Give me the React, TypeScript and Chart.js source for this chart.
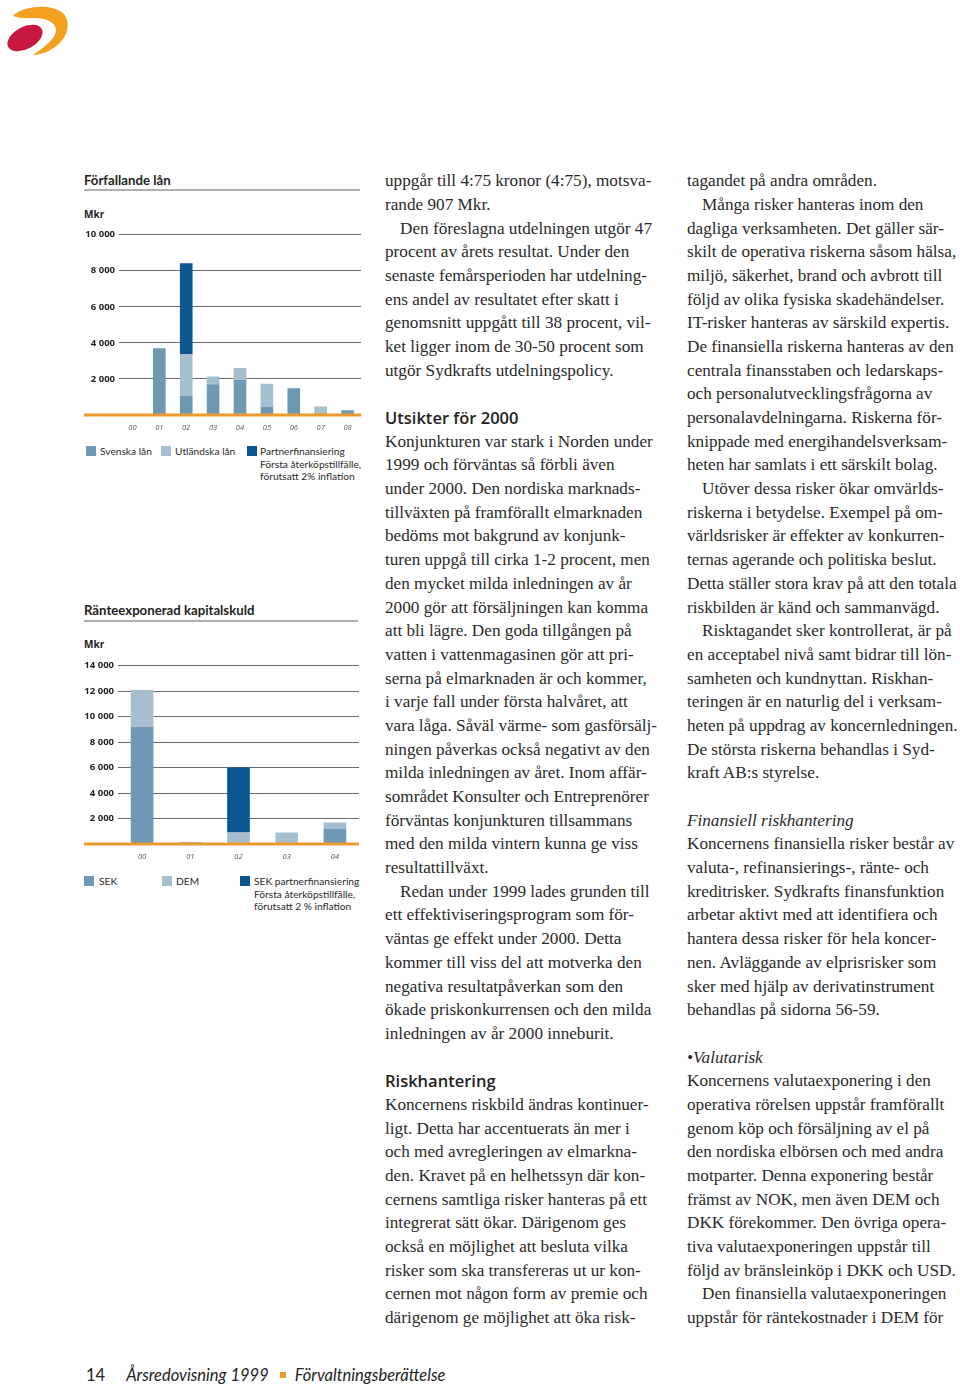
import React, { useEffect, useRef } from "react";
import { Chart, registerables } from "chart.js";

Chart.register(...registerables);

// ---------- Chart 1: Förfallande lån ----------
const loanYears = ["00", "01", "02", "03", "04", "05", "06", "07", "08"];
const svenskaLan = [0, 3700, 1050, 1700, 1950, 450, 1480, 0, 270];
const utlandskaLan = [0, 0, 2330, 440, 650, 1280, 0, 470, 0];
const partnerLan = [0, 0, 5030, 0, 0, 0, 0, 0, 0];

// ---------- Chart 2: Ränteexponerad kapitalskuld ----------
const debtYears = ["00", "01", "02", "03", "04"];
const sekDebt = [9200, 0, 0, 0, 1210];
const demDebt = [2900, 150, 900, 900, 470];
const sekPartnerDebt = [0, 0, 5100, 0, 0];

const C_MID = "#6e98b3";
const C_LIGHT = "#a6bfcf";
const C_DARK = "#0b5590";
const C_ORANGE = "#eb9a2c";

const TEXT_COLOR = "#2a2a2a";
const SERIF = "'Liberation Serif', serif";
const SANS = "Lato, 'Open Sans', sans-serif";
const SANS2 = "'Open Sans', sans-serif";

const col2Lines: [string, string?][] = [
  ["uppgår till 4:75 kronor (4:75), motsva-"],
  ["rande 907 Mkr."],
  ["Den föreslagna utdelningen utgör 47", "i"],
  ["procent av årets resultat. Under den"],
  ["senaste femårsperioden har utdelning-"],
  ["ens andel av resultatet efter skatt i"],
  ["genomsnitt uppgått till 38 procent, vil-"],
  ["ket ligger inom de 30-50 procent som"],
  ["utgör Sydkrafts utdelningspolicy."],
  [""],
  ["Utsikter för 2000", "h"],
  ["Konjunkturen var stark i Norden under"],
  ["1999 och förväntas så förbli även"],
  ["under 2000. Den nordiska marknads-"],
  ["tillväxten på framförallt elmarknaden"],
  ["bedöms mot bakgrund av konjunk-"],
  ["turen uppgå till cirka 1-2 procent, men"],
  ["den mycket milda inledningen av år"],
  ["2000 gör att försäljningen kan komma"],
  ["att bli lägre. Den goda tillgången på"],
  ["vatten i vattenmagasinen gör att pri-"],
  ["serna på elmarknaden är och kommer,"],
  ["i varje fall under första halvåret, att"],
  ["vara låga. Såväl värme- som gasförsälj-"],
  ["ningen påverkas också negativt av den"],
  ["milda inledningen av året. Inom affär-"],
  ["sområdet Konsulter och Entreprenörer"],
  ["förväntas konjunkturen tillsammans"],
  ["med den milda vintern kunna ge viss"],
  ["resultattillväxt."],
  ["Redan under 1999 lades grunden till", "i"],
  ["ett effektiviseringsprogram som för-"],
  ["väntas ge effekt under 2000. Detta"],
  ["kommer till viss del att motverka den"],
  ["negativa resultatpåverkan som den"],
  ["ökade priskonkurrensen och den milda"],
  ["inledningen av år 2000 inneburit."],
  [""],
  ["Riskhantering", "h"],
  ["Koncernens riskbild ändras kontinuer-"],
  ["ligt. Detta har accentuerats än mer i"],
  ["och med avregleringen av elmarkna-"],
  ["den. Kravet på en helhetssyn där kon-"],
  ["cernens samtliga risker hanteras på ett"],
  ["integrerat sätt ökar. Därigenom ges"],
  ["också en möjlighet att besluta vilka"],
  ["risker som ska transfereras ut ur kon-"],
  ["cernen mot någon form av premie och"],
  ["därigenom ge möjlighet att öka risk-"],
];

const col3Lines: [string, string?][] = [
  ["tagandet på andra områden."],
  ["Många risker hanteras inom den", "i"],
  ["dagliga verksamheten. Det gäller sär-"],
  ["skilt de operativa riskerna såsom hälsa,"],
  ["miljö, säkerhet, brand och avbrott till"],
  ["följd av olika fysiska skadehändelser."],
  ["IT-risker hanteras av särskild expertis."],
  ["De finansiella riskerna hanteras av den"],
  ["centrala finansstaben och ledarskaps-"],
  ["och personalutvecklingsfrågorna av"],
  ["personalavdelningarna. Riskerna för-"],
  ["knippade med energihandelsverksam-"],
  ["heten har samlats i ett särskilt bolag."],
  ["Utöver dessa risker ökar omvärlds-", "i"],
  ["riskerna i betydelse. Exempel på om-"],
  ["världsrisker är effekter av konkurren-"],
  ["ternas agerande och politiska beslut."],
  ["Detta ställer stora krav på att den totala"],
  ["riskbilden är känd och sammanvägd."],
  ["Risktagandet sker kontrollerat, är på", "i"],
  ["en acceptabel nivå samt bidrar till lön-"],
  ["samheten och kundnyttan. Riskhan-"],
  ["teringen är en naturlig del i verksam-"],
  ["heten på uppdrag av koncernledningen."],
  ["De största riskerna behandlas i Syd-"],
  ["kraft AB:s styrelse."],
  [""],
  ["Finansiell riskhantering", "it"],
  ["Koncernens finansiella risker består av"],
  ["valuta-, refinansierings-, ränte- och"],
  ["kreditrisker. Sydkrafts finansfunktion"],
  ["arbetar aktivt med att identifiera och"],
  ["hantera dessa risker för hela koncer-"],
  ["nen. Avläggande av elprisrisker som"],
  ["sker med hjälp av derivatinstrument"],
  ["behandlas på sidorna 56-59."],
  [""],
  ["•Valutarisk", "it"],
  ["Koncernens valutaexponering i den"],
  ["operativa rörelsen uppstår framförallt"],
  ["genom köp och försäljning av el på"],
  ["den nordiska elbörsen och med andra"],
  ["motparter. Denna exponering består"],
  ["främst av NOK, men även DEM och"],
  ["DKK förekommer. Den övriga opera-"],
  ["tiva valutaexponeringen uppstår till"],
  ["följd av bränsleinköp i DKK och USD."],
  ["Den finansiella valutaexponeringen", "i"],
  ["uppstår för räntekostnader i DEM för"],
];

const LINE_H = 23.7;

const baselinePlugin = {
  id: "orangeBaseline",
  afterDatasetsDraw(chart: any) {
    const y = chart.scales.y.getPixelForValue(0);
    const ctx = chart.ctx;
    ctx.save();
    ctx.strokeStyle = C_ORANGE;
    ctx.lineWidth = 3;
    ctx.beginPath();
    ctx.moveTo(0, y);
    ctx.lineTo(chart.chartArea.right, y);
    ctx.stroke();
    ctx.restore();
  },
};

function fmt(v: number) {
  if (v === 0) return "";
  return String(v).replace(/\B(?=(\d{3})+(?!\d))/g, " ");
}

function StackedBars(props: {
  labels: string[];
  series: { data: number[]; color: string }[];
  max: number;
  yWidth: number;
  width: number;
  height: number;
  left: number;
  top: number;
}) {
  const ref = useRef<HTMLCanvasElement>(null);
  useEffect(() => {
    if (!ref.current) return;
    const chart = new Chart(ref.current, {
      type: "bar",
      data: {
        labels: props.labels,
        datasets: props.series.map((s) => ({
          data: s.data,
          backgroundColor: s.color,
          borderWidth: 0,
          barPercentage: 0.47,
          categoryPercentage: 1,
        })),
      },
      options: {
        animation: false,
        responsive: false,
        devicePixelRatio: 1,
        layout: { padding: { top: 8, left: 0, right: 0, bottom: 0 } },
        plugins: { legend: { display: false }, tooltip: { enabled: false } },
        scales: {
          x: {
            stacked: true,
            grid: { display: false, drawTicks: false },
            border: { display: false },
            ticks: {
              padding: 8,
              color: "#555",
              font: { family: SANS2, size: 7.5, style: "italic" },
            },
            afterFit: (s: any) => {
              s.height = 20;
            },
          },
          y: {
            stacked: true,
            min: 0,
            max: props.max,
            border: { display: false },
            grid: {
              drawTicks: false,
              lineWidth: 1,
              color: (c: any) => (c.tick && c.tick.value === 0 ? "rgba(0,0,0,0)" : "#6a6a6a"),
            },
            ticks: {
              stepSize: 2000,
              padding: 4,
              color: "#1e1e1e",
              font: { family: SANS2, size: 9.5, weight: "bold" },
              callback: (v: any) => fmt(Number(v)),
            },
            afterFit: (s: any) => {
              s.width = props.yWidth;
            },
          },
        },
      },
      plugins: [baselinePlugin],
    } as any);
    return () => chart.destroy();
  }, []);
  return (
    <canvas
      ref={ref}
      width={props.width}
      height={props.height}
      style={{ position: "absolute", left: props.left, top: props.top, width: props.width, height: props.height }}
    />
  );
}

function Sq({ x, y, c }: { x: number; y: number; c: string }) {
  return <div style={{ position: "absolute", left: x, top: y, width: 10, height: 10, background: c }} />;
}

function Txt(p: { x: number; y: number; children: any; size?: number; bold?: boolean; color?: string; family?: string }) {
  return (
    <div
      style={{
        position: "absolute",
        left: p.x,
        top: p.y,
        fontFamily: p.family || SANS,
        fontSize: p.size || 10.2,
        fontWeight: p.bold ? 700 : 400,
        color: p.color || "#2a2a2a",
        whiteSpace: "nowrap",
        lineHeight: "12px",
      }}
    >
      {p.children}
    </div>
  );
}

function Column({ x, lines }: { x: number; lines: [string, string?][] }) {
  return (
    <div style={{ position: "absolute", left: x, top: 181 - LINE_H / 2, width: 290 }}>
      {lines.map(([t, k], i) => {
        const base: any = {
          height: LINE_H,
          lineHeight: LINE_H + "px",
          whiteSpace: "nowrap",
          fontFamily: SERIF,
          fontSize: 17.2,
          color: TEXT_COLOR,
        };
        if (k === "i") base.paddingLeft = 15;
        if (k === "h") {
          base.fontFamily = SANS2;
          base.fontWeight = 600;
          base.fontSize = 16.5;
          base.color = "#1e1e1e";
        }
        if (k === "it") base.fontStyle = "italic";
        return (
          <div key={i} style={base}>
            {t || "\u00a0"}
          </div>
        );
      })}
    </div>
  );
}

export default function App() {
  return (
    <div style={{ position: "absolute", left: 0, top: 0, width: 960, height: 1387, background: "#fff", overflow: "hidden" }}>
      {/* logo */}
      <svg width={80} height={64} style={{ position: "absolute", left: 0, top: 0 }}>
        <path
          d="M13,16 C22,6 50,3 63,13 C72,22 68,40 52,49 C46,53 38,55 33,55 C45,47 56,38 56,30 C56,22 45,18 36,18 C28,18 20,19 13,16 Z"
          fill="#f4a11f"
        />
        <ellipse cx={25} cy={38} rx={19} ry={11} transform="rotate(-28 25 38)" fill="#c8173f" />
      </svg>

      {/* Chart 1 */}
      <Txt x={84} y={174} size={13.2} bold color="#1e1e1e">Förfallande lån</Txt>
      <div style={{ position: "absolute", left: 84, top: 189, width: 276, height: 2, background: "#b0b0b0" }} />
      <Txt x={84} y={208} size={10} bold color="#1e1e1e" family={SANS2}>Mkr</Txt>
      <StackedBars
        labels={loanYears}
        series={[
          { data: svenskaLan, color: C_MID },
          { data: utlandskaLan, color: C_LIGHT },
          { data: partnerLan, color: C_DARK },
        ]}
        max={10000}
        yWidth={35}
        width={277}
        height={210}
        left={84}
        top={225}
      />
      <Sq x={86} y={446} c={C_MID} />
      <Txt x={100} y={445}>Svenska lån</Txt>
      <Sq x={161} y={446} c={C_LIGHT} />
      <Txt x={175} y={445}>Utländska lån</Txt>
      <Sq x={247} y={446} c={C_DARK} />
      <Txt x={260} y={445}>Partnerfinansiering</Txt>
      <Txt x={260} y={458}>Första återköpstillfälle,</Txt>
      <Txt x={260} y={470}>förutsatt 2% inflation</Txt>

      {/* Chart 2 */}
      <Txt x={84} y={604} size={13.2} bold color="#1e1e1e">Ränteexponerad kapitalskuld</Txt>
      <div style={{ position: "absolute", left: 84, top: 620, width: 274, height: 2, background: "#b0b0b0" }} />
      <Txt x={84} y={638} size={10} bold color="#1e1e1e" family={SANS2}>Mkr</Txt>
      <StackedBars
        labels={debtYears}
        series={[
          { data: sekDebt, color: C_MID },
          { data: demDebt, color: C_LIGHT },
          { data: sekPartnerDebt, color: C_DARK },
        ]}
        max={14000}
        yWidth={34}
        width={275}
        height={208}
        left={84}
        top={656}
      />
      <Sq x={84} y={876} c={C_MID} />
      <Txt x={99} y={875}>SEK</Txt>
      <Sq x={162} y={876} c={C_LIGHT} />
      <Txt x={176} y={875}>DEM</Txt>
      <Sq x={240} y={876} c={C_DARK} />
      <Txt x={254} y={875}>SEK partnerfinansiering</Txt>
      <Txt x={254} y={888}>Första återköpstillfälle,</Txt>
      <Txt x={254} y={900}>förutsatt 2 % inflation</Txt>

      {/* Text columns */}
      <Column x={385} lines={col2Lines} />
      <Column x={687} lines={col3Lines} />

      {/* Footer */}
      <div
        style={{
          position: "absolute",
          left: 86,
          top: 1364,
          fontFamily: SANS,
          fontSize: 16.5,
          color: "#222",
          whiteSpace: "nowrap",
          lineHeight: "22px",
        }}
      >
        <span>14</span>
        <span style={{ display: "inline-block", width: 21 }} />
        <span style={{ fontStyle: "italic" }}>Årsredovisning 1999</span>
        <span style={{ display: "inline-block", width: 6, height: 6, background: C_ORANGE, margin: "0 9px 3px 11px" }} />
        <span style={{ fontStyle: "italic" }}>Förvaltningsberättelse</span>
      </div>
    </div>
  );
}
